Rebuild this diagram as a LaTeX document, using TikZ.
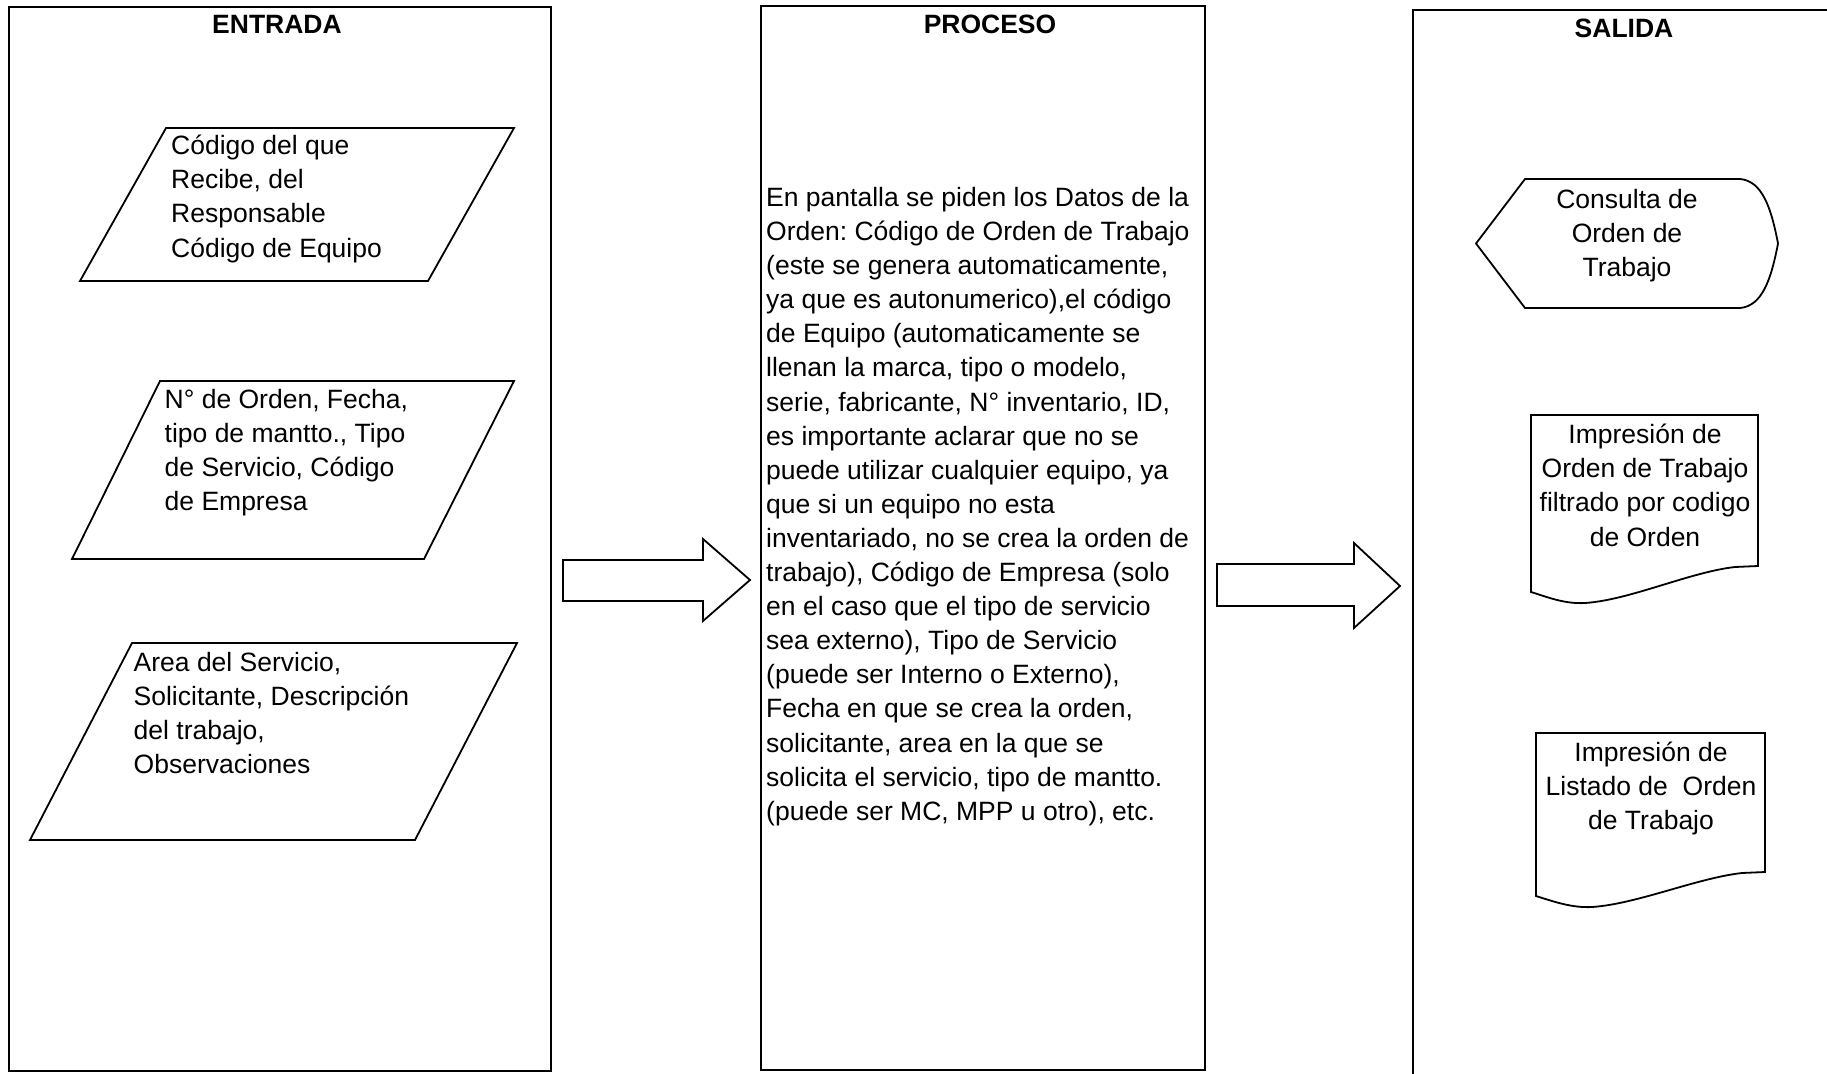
\documentclass[tikz,border=0pt]{standalone}
\usepackage{fontspec}
\setmainfont{Liberation Sans}
\usetikzlibrary{positioning}
\frenchspacing

\begin{document}
\begin{tikzpicture}[
    x=1pt, y=-1pt,
    font=\fontsize{26.5}{34.1}\selectfont,
    col/.style={
      draw=black, line width=2pt, inner sep=0pt,
      minimum height=#1,
    },
    ttl/.style={
      inner sep=0pt, font=\fontsize{26.5}{34.1}\selectfont\bfseries,
    },
    txt/.style={inner sep=0pt, align=left, anchor=north west},
    ctxt/.style={inner sep=0pt, align=center, anchor=north},
    shp/.style={draw=black, line width=1.8pt, line join=miter},
  ]
    \useasboundingbox (0,0) rectangle (1827,1073);

    % ===== Columns =====
    \node[col=1064, minimum width=542] (entrada) at (280,539) {};
    \node[col=1064, minimum width=444] (proceso) at (983,538) {};
    \node[col=1110, minimum width=422, anchor=north west] (salida) at (1412,9) {};

    \node[ttl, below=9pt of entrada.north, xshift=-3pt] (tEnt) {ENTRADA};
    \node[ttl, below=10pt of proceso.north, xshift=7pt] (tPro) {PROCESO};
    \node[ttl, below=9.5pt of salida.north] (tSal) {SALIDA};

    % ===== Entrada: data shapes =====
    \draw[shp] (166,128) -- (514,128) -- (428,281) -- (80,281) -- cycle;
    \node[txt] (in1) at (171,135) {%
      Código del que\\
      Recibe, del\\
      Responsable\\
      Código de Equipo};

    \draw[shp] (160,381) -- (514,381) -- (424,559) -- (72,559) -- cycle;
    \node[txt] (in2) at (164.5,389) {%
      N° de Orden, Fecha,\\
      tipo de mantto., Tipo\\
      de Servicio, Código\\
      de Empresa};

    \draw[shp] (132,643) -- (517,643) -- (415,840) -- (30,840) -- cycle;
    \node[txt] (in3) at (133.5,652) {%
      Area del Servicio,\\
      Solicitante, Descripción\\
      del trabajo,\\
      Observaciones};

    % ===== Block arrows =====
    \draw[shp] (563,560) -- (703,560) -- (703,539) -- (750,580)
      -- (703,621) -- (703,601) -- (563,601) -- cycle;
    \draw[shp] (1217,564) -- (1354,564) -- (1354,543) -- (1400,586)
      -- (1354,628) -- (1354,606) -- (1217,606) -- cycle;

    % ===== Proceso text =====
    \node[txt] (desc) at (766,187) {%
      En pantalla se piden los Datos de la\\
      Orden: Código de Orden de Trabajo\\
      (este se genera automaticamente,\\
      ya que es autonumerico),el código\\
      de Equipo (automaticamente se\\
      llenan la marca, tipo o modelo,\\
      serie, fabricante, N° inventario, ID,\\
      es importante aclarar que no se\\
      puede utilizar cualquier equipo, ya\\
      que si un equipo no esta\\
      inventariado, no se crea la orden de\\
      trabajo), Código de Empresa (solo\\
      en el caso que el tipo de servicio\\
      sea externo), Tipo de Servicio\\
      (puede ser Interno o Externo),\\
      Fecha en que se crea la orden,\\
      solicitante, area en la que se\\
      solicita el servicio, tipo de mantto.\\
      (puede ser MC, MPP u otro), etc.};

    % ===== Salida: display and documents =====
    \draw[shp] (1476,243.5) -- (1525,179) -- (1740,179)
      .. controls (1762,181) and (1771,207) .. (1778,243.5)
      .. controls (1771,280) and (1762,306) .. (1740,308)
      -- (1525,308) -- cycle;
    \node[ctxt] (out1) at (1627,189) {%
      Consulta de\\
      Orden de\\
      Trabajo};

    \draw[shp] (1531,592) -- (1531,415) -- (1758,415) -- (1758,566) -- (1735,567)
      .. controls (1690,572) and (1630,600) .. (1585,603)
      .. controls (1565,604) and (1550,598) .. (1531,592) -- cycle;
    \node[ctxt] (out2) at (1645,424) {%
      Impresión de\\
      Orden de Trabajo\\
      filtrado por codigo\\
      de Orden};

    \draw[shp] (1536,896) -- (1536,733) -- (1765,733) -- (1765,872) -- (1742,873)
      .. controls (1697,878) and (1637,904) .. (1592,907)
      .. controls (1572,908) and (1555,902) .. (1536,896) -- cycle;
    \node[ctxt] (out3) at (1651,742) {%
      Impresión de\\
      Listado de~ Orden\\
      de Trabajo};

  \end{tikzpicture}
\end{document}
